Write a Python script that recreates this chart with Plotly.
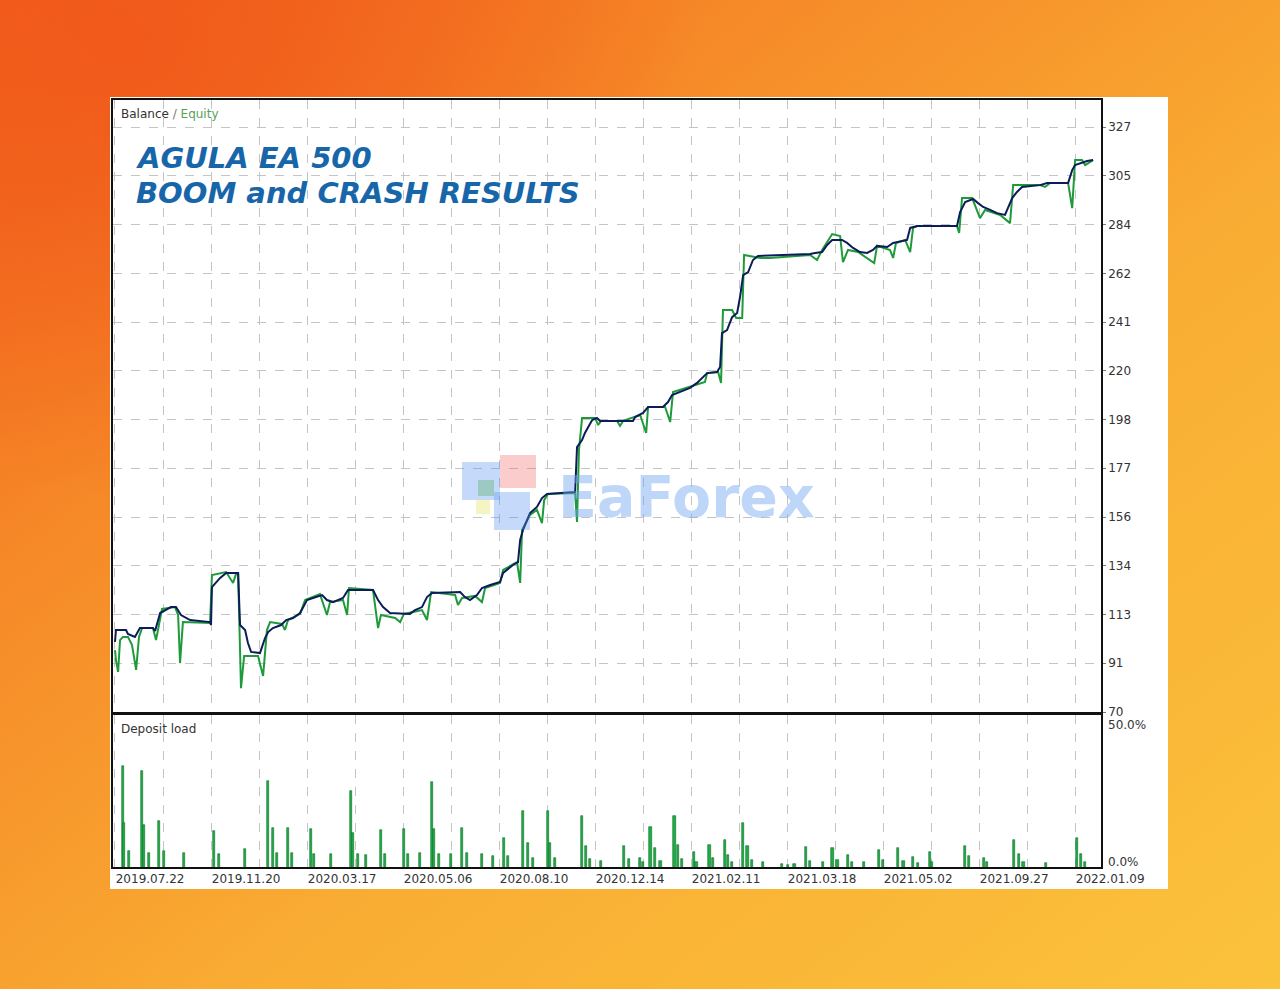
import base64
import plotly.graph_objects as go

W, H = 1280, 989

# ---------------- data ----------------
# x = trade index (20 units per grid column), y = account balance / equity
balance_points = [
    (0, 100.8), (0.4, 106.0), (4.6, 106.0), (5.4, 104.3), (8.3, 103.0), (10.4, 106.9), (15.8, 106.9),
    (16.7, 105.6), (18.8, 113.5), (21.3, 114.8), (23.3, 116.1), (25.4, 116.1), (27.5, 112.6), (31.3, 110.4),
    (39.6, 109.5), (40.0, 108.2), (40.4, 124.9), (43.8, 128.9), (46.3, 131.1), (51.3, 131.1), (52.1, 108.2),
    (54.2, 106.0), (55.4, 100.3), (56.7, 96.4), (60.4, 95.9), (62.5, 102.5), (63.8, 105.1), (65.8, 106.9),
    (69.2, 108.2), (71.3, 110.4), (74.2, 111.3), (77.1, 113.5), (80.0, 119.2), (82.5, 120.1), (86.3, 121.4),
    (88.3, 119.2), (90.8, 118.3), (95.0, 120.1), (97.1, 123.6), (107.5, 123.6), (109.6, 119.2), (111.7, 116.1),
    (114.6, 113.5), (122.9, 113.1), (125.0, 114.8), (127.9, 116.1), (130.0, 120.5), (132.1, 122.3),
    (143.8, 122.7), (145.8, 120.5), (147.9, 119.2), (150.8, 121.4), (152.9, 124.5), (156.3, 125.8),
    (160.4, 127.1), (161.7, 131.1), (165.8, 134.6), (167.9, 135.9), (168.8, 145.6), (170.0, 150.0),
    (172.9, 157.4), (175.8, 160.1), (177.9, 164.0), (180.0, 165.8), (191.7, 166.7), (192.5, 186.4),
    (194.6, 189.5), (195.8, 192.6), (197.1, 195.2), (198.8, 198.3), (200.8, 199.2), (202.1, 197.9),
    (215.8, 197.9), (216.7, 199.6), (220.0, 201.4), (222.1, 204.0), (228.3, 204.0), (230.4, 206.2),
    (232.1, 209.3), (235.4, 210.6), (239.6, 212.4), (242.5, 214.6), (246.7, 218.9), (250.8, 219.4),
    (252.1, 221.6), (252.9, 236.5), (255.0, 237.8), (257.1, 243.5), (259.2, 245.3), (260.4, 252.3),
    (261.7, 262.0), (263.8, 263.3), (265.8, 268.6), (267.9, 270.4), (289.6, 271.2), (291.7, 271.7),
    (294.6, 272.1), (296.7, 275.2), (298.8, 277.4), (302.9, 277.4), (305.0, 276.1), (307.5, 273.9),
    (310.4, 272.1), (313.3, 271.7), (315.8, 273.0), (317.5, 274.8), (321.7, 274.3), (324.2, 276.1),
    (330.0, 277.4), (331.3, 282.7), (334.2, 283.5), (350.8, 283.5), (352.1, 289.7), (354.2, 294.1),
    (357.5, 295.4), (359.6, 293.6), (361.7, 291.9), (364.6, 290.6), (367.5, 289.2), (370.8, 288.4),
    (372.1, 291.4), (373.8, 295.8), (375.8, 298.5), (377.9, 300.7), (385.4, 301.5), (388.3, 302.4),
    (397.1, 302.4), (398.8, 308.1), (400.0, 310.3), (402.1, 311.2), (405.0, 312.1), (407.5, 312.5),
]

equity_points = [
    (0, 97.2), (0.4, 92.8), (1.3, 87.6), (2.1, 101.6), (3.3, 103.0), (5.4, 103.0), (7.1, 99.4), (8.8, 88.5),
    (10.0, 103.0), (11.3, 106.9), (15.8, 106.9), (17.1, 101.6), (18.3, 108.2), (19.6, 115.3), (25.0, 116.1),
    (26.3, 112.6), (27.1, 91.5), (28.3, 109.5), (39.6, 109.1), (40.4, 130.2), (46.3, 131.5), (49.2, 126.7),
    (50.4, 130.6), (51.3, 130.6), (52.5, 80.5), (53.8, 94.6), (59.6, 94.6), (61.7, 85.8), (63.3, 106.0),
    (64.6, 109.5), (69.6, 108.7), (70.8, 106.0), (72.1, 110.4), (77.1, 113.1), (79.2, 119.2), (85.4, 121.8),
    (88.3, 112.6), (89.6, 118.3), (95.0, 119.2), (96.7, 112.6), (97.5, 124.5), (107.5, 123.6), (109.6, 106.9),
    (110.8, 112.6), (116.7, 111.3), (118.8, 109.5), (120.4, 113.1), (127.9, 114.8), (130.0, 110.4),
    (131.7, 122.7), (141.7, 121.4), (142.9, 117.0), (144.6, 120.1), (150.0, 121.0), (152.9, 118.3),
    (154.2, 124.5), (160.4, 126.7), (161.7, 132.4), (167.5, 135.9), (168.8, 126.7), (169.6, 150.0),
    (172.9, 156.6), (175.8, 158.8), (177.9, 153.0), (178.8, 163.1), (180.4, 165.8), (191.7, 166.2),
    (192.5, 153.5), (193.3, 185.1), (194.6, 199.2), (200.0, 199.2), (201.3, 196.1), (202.5, 197.9),
    (209.2, 197.9), (210.4, 195.7), (211.7, 197.9), (218.8, 200.5), (221.3, 192.6), (222.1, 204.0),
    (229.2, 204.0), (231.3, 197.4), (232.5, 210.6), (245.8, 215.0), (246.7, 218.9), (251.3, 219.4),
    (252.5, 214.6), (253.3, 246.6), (257.1, 246.6), (258.8, 243.1), (261.3, 243.1), (262.1, 270.8),
    (268.8, 269.5), (272.9, 269.5), (289.6, 270.8), (292.5, 268.6), (294.6, 273.0), (298.8, 280.0),
    (302.1, 279.1), (303.3, 267.7), (305.4, 273.0), (309.6, 272.1), (316.3, 267.3), (317.5, 274.8),
    (322.9, 273.0), (324.2, 269.5), (325.4, 276.1), (329.2, 277.4), (331.3, 272.1), (332.5, 282.7),
    (334.2, 283.5), (350.8, 283.5), (351.7, 280.5), (352.9, 295.8), (357.1, 295.8), (360.4, 287.0),
    (362.5, 290.6), (368.8, 288.4), (372.9, 284.8), (374.2, 301.5), (385.4, 301.5), (387.5, 300.7),
    (389.6, 302.4), (397.1, 302.4), (398.8, 291.4), (400.0, 312.5), (402.9, 312.5), (404.2, 310.3),
    (407.5, 312.5),
]

load_x = [
    3.2, 3.9, 6.0, 11.1, 12.2, 14.3, 18.5, 20.4, 28.8, 41.3, 43.2, 54.2, 63.9, 65.7, 67.6, 72.0, 73.6,
    81.7, 83.0, 90.0, 98.2, 99.0, 101.1, 104.6, 110.7, 112.6, 120.4, 122.0, 127.1, 132.0, 132.9, 135.0,
    140.0, 144.5, 146.5, 152.8, 157.6, 162.2, 163.6, 170.1, 172.2, 174.0, 180.3, 181.3, 183.3, 194.5,
    196.3, 197.9, 202.5, 212.1, 214.0, 218.9, 219.9, 223.1, 225.0, 227.3, 233.1, 234.5, 236.3, 241.1,
    242.3, 247.7, 249.2, 254.0, 255.5, 256.9, 261.6, 263.5, 265.3, 269.9, 278.0, 280.3, 283.1, 287.9,
    289.4, 294.8, 298.9, 301.0, 305.5, 306.9, 312.0, 318.3, 320.1, 326.3, 328.5, 332.5, 334.4, 339.4,
    340.3, 354.0, 355.9, 362.2, 363.2, 374.5, 376.8, 378.5, 387.8, 400.8, 402.4, 404.1,
]
load_pct = [
    34.5, 15.0, 5.5, 32.7, 14.5, 4.9, 15.7, 5.5, 4.9, 12.3, 4.3, 6.2, 29.3, 13.5, 4.9, 13.5, 4.9,
    12.9, 4.3, 4.3, 26.0, 11.7, 4.3, 4.1, 12.5, 4.3, 12.9, 4.3, 4.9, 29.1, 12.9, 4.3,
    4.3, 13.5, 4.9, 4.3, 3.8, 10.0, 3.8, 19.2, 8.3, 3.2, 19.2, 8.3, 3.2, 17.4,
    7.2, 2.6, 2.1, 7.2, 2.6, 3.0, 1.8, 13.6, 6.6, 2.2, 17.4, 7.6, 2.8, 5.2,
    1.8, 7.6, 3.0, 9.4, 4.2, 1.8, 15.0, 7.2, 2.4, 1.6, 1.0, 0.6, 1.0, 7.0,
    2.2, 1.8, 6.6, 2.4, 4.2, 1.6, 1.8, 5.8, 2.4, 6.4, 2.2, 3.4, 1.2, 5.2,
    1.8, 7.2, 3.6, 3.0, 1.6, 9.4, 4.6, 1.8, 1.2, 10.0, 4.6, 1.8,
]

y_tick_vals = [70 + k * 257 / 12 for k in range(13)]
y_tick_text = ["70", "91", "113", "134", "156", "177", "198", "220", "241", "262", "284", "305", "327"]

load_scale_labels = ["0.0%", "50.0%"]

x_grid_vals = list(range(0, 401, 20))
date_labels = ["2019.07.22", "2019.11.20", "2020.03.17", "2020.05.06", "2020.08.10", "2020.12.14",
               "2021.02.11", "2021.03.18", "2021.05.02", "2021.09.27", "2022.01.09"]
x_tick_text = [date_labels[i // 2] if i % 2 == 0 else "" for i in range(len(x_grid_vals))]

title_lines = ["AGULA EA 500", "BOOM and CRASH RESULTS"]

# ---------------- helpers ----------------
def px_x(p):
    return p / W


def px_y(p):
    return 1 - p / H


bal_x = [p[0] for p in balance_points]
bal_y = [p[1] for p in balance_points]
eq_x = [p[0] for p in equity_points]
eq_y = [p[1] for p in equity_points]

fig = go.Figure()

fig.add_trace(go.Scatter(x=eq_x, y=eq_y, mode="lines", line=dict(color="#1f9a3a", width=2),
                         xaxis="x", yaxis="y", showlegend=False, hoverinfo="skip"))
fig.add_trace(go.Scatter(x=bal_x, y=bal_y, mode="lines", line=dict(color="#0c1c5a", width=2),
                         xaxis="x", yaxis="y", showlegend=False, hoverinfo="skip"))
fig.add_trace(go.Bar(x=load_x, y=load_pct, width=0.9, xaxis="x2", yaxis="y2",
                     marker=dict(color="#1fae45", line=dict(color="#0c6f28", width=0.6)),
                     showlegend=False, hoverinfo="skip"))

grid = dict(showgrid=True, gridcolor="#c4c4c4", griddash="dash", gridwidth=1)
frame = dict(showline=True, linecolor="#111111", linewidth=1.5, mirror=True, zeroline=False,
             automargin=False)
xrange = [-0.83, 410.8]
tickfont = dict(family="DejaVu Sans", size=12, color="#333333")

fig.update_layout(
    width=W, height=H,
    autosize=False,
    margin=dict(l=0, r=0, t=0, b=0, pad=0, autoexpand=False),
    paper_bgcolor="#f7922c",
    plot_bgcolor="white",
    bargap=0,
    xaxis=dict(domain=[px_x(113), px_x(1101)], range=xrange, anchor="y",
               tickvals=x_grid_vals, showticklabels=False, ticks="", **grid, **frame),
    yaxis=dict(domain=[px_y(712), px_y(100)], range=[70, 338.9], anchor="x", side="right",
               tickvals=y_tick_vals, ticktext=y_tick_text, ticks="outside", ticklen=3,
               tickcolor="#777777", tickfont=tickfont, **grid, **frame),
    xaxis2=dict(domain=[px_x(113), px_x(1101)], range=xrange, anchor="y2",
                tickvals=x_grid_vals, ticktext=x_tick_text, ticks="",
                ticklabelposition="outside right", tickfont=tickfont, **grid, **frame),
    yaxis2=dict(domain=[px_y(867), px_y(715)], range=[0, 52], anchor="x2", side="right",
                showticklabels=False, ticks="", showgrid=False, **frame),
)

# deposit-load scale labels (placed like the terminal does, inside the pane height)
fig.add_annotation(xref="paper", yref="paper", x=px_x(1106), y=px_y(725), xanchor="left", yanchor="middle",
                   text=load_scale_labels[1], showarrow=False, font=tickfont)
fig.add_annotation(xref="paper", yref="paper", x=px_x(1106), y=px_y(862), xanchor="left", yanchor="middle",
                   text=load_scale_labels[0], showarrow=False, font=tickfont)

# background gradient (decoration) and white frame
svg = (
    '<svg xmlns="http://www.w3.org/2000/svg" width="1280" height="989" viewBox="0 0 1280 989" '
    'preserveAspectRatio="none"><defs>'
    '<linearGradient id="g" x1="0" y1="0" x2="1" y2="1">'
    '<stop offset="0" stop-color="#f2621b"/><stop offset="0.3" stop-color="#f68a28"/>'
    '<stop offset="0.6" stop-color="#f9ad33"/><stop offset="1" stop-color="#fbc23c"/>'
    '</linearGradient>'
    '<radialGradient id="r" cx="0.1" cy="0.05" r="0.45">'
    '<stop offset="0" stop-color="#f0551a" stop-opacity="0.8"/>'
    '<stop offset="1" stop-color="#f0551a" stop-opacity="0"/></radialGradient>'
    '</defs><rect width="1280" height="989" fill="url(#g)"/>'
    '<rect width="1280" height="989" fill="url(#r)"/></svg>'
)
fig.add_layout_image(dict(
    source="data:image/svg+xml;base64," + base64.b64encode(svg.encode()).decode(),
    xref="paper", yref="paper", x=0, y=1, sizex=1, sizey=1,
    sizing="stretch", xanchor="left", yanchor="top", layer="below",
))
fig.add_shape(type="rect", xref="paper", yref="paper",
              x0=px_x(110), x1=px_x(1168), y0=px_y(889), y1=px_y(97),
              fillcolor="white", line=dict(width=0), layer="below")

# watermark logo (faint shapes)
for (x0, y0, x1, y1, col) in [
    (500, 455, 536, 488, "rgba(240,110,110,0.35)"),
    (462, 462, 500, 500, "rgba(90,150,240,0.35)"),
    (478, 480, 494, 496, "rgba(80,170,90,0.35)"),
    (476, 500, 490, 514, "rgba(225,225,80,0.35)"),
    (494, 492, 530, 530, "rgba(90,150,240,0.35)"),
]:
    fig.add_shape(type="rect", xref="paper", yref="paper",
                  x0=px_x(x0), x1=px_x(x1), y0=px_y(y1), y1=px_y(y0),
                  fillcolor=col, line=dict(width=0), layer="above")

fig.add_annotation(xref="paper", yref="paper", x=px_x(556), y=px_y(497), xanchor="left", yanchor="middle",
                   text="<b>EaForex</b>", showarrow=False,
                   font=dict(family="DejaVu Sans", size=57, color="rgba(110,165,240,0.45)"))

# titles / labels
fig.add_annotation(xref="paper", yref="paper", x=px_x(134), y=px_y(157), xanchor="left", yanchor="middle",
                   text="<b><i>" + title_lines[0] + "</i></b>", showarrow=False, height=33,
                   font=dict(family="DejaVu Sans", size=29, color="#1866aa"))
fig.add_annotation(xref="paper", yref="paper", x=px_x(134), y=px_y(192), xanchor="left", yanchor="middle",
                   text="<b><i>" + title_lines[1] + "</i></b>", showarrow=False, height=33,
                   font=dict(family="DejaVu Sans", size=29, color="#1866aa"))
fig.add_annotation(xref="paper", yref="paper", x=px_x(119), y=px_y(114), xanchor="left", yanchor="middle",
                   text="Balance <span style='color:#777777'>/</span> <span style='color:#5aa05a'>Equity</span>",
                   showarrow=False, font=dict(family="DejaVu Sans", size=12, color="#333333"))
fig.add_annotation(xref="paper", yref="paper", x=px_x(119), y=px_y(729), xanchor="left", yanchor="middle",
                   text="Deposit load", showarrow=False,
                   font=dict(family="DejaVu Sans", size=12, color="#333333"))

fig.write_html(
    "out.html",
    config={"responsive": False, "displayModeBar": False},
    post_script="document.body.style.margin='0px';document.body.style.overflow='hidden';",
)
